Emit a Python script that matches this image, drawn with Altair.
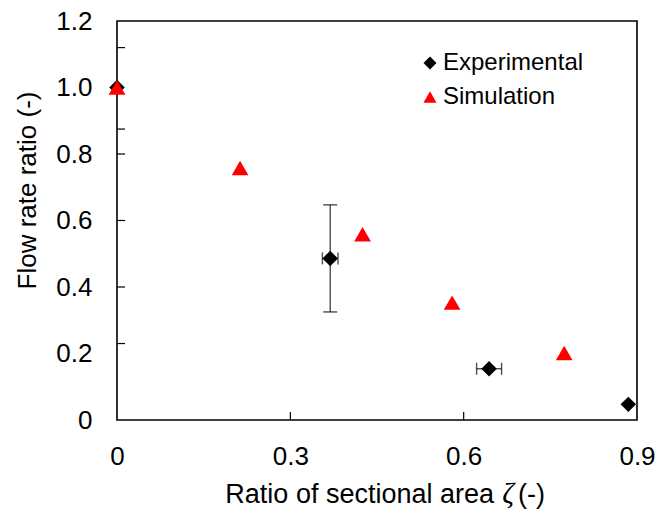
import altair as alt
import pandas as pd

# Measured points
exp_x = [0.0, 0.369, 0.644, 0.885]
exp_y = [1.0, 0.486, 0.154, 0.047]
exp_xerr = [0.0, 0.0135, 0.0216, 0.0]
exp_ylo = [1.0, 0.325, 0.154, 0.047]
exp_yhi = [1.0, 0.647, 0.154, 0.047]

# Simulated points
sim_x = [0.0, 0.213, 0.425, 0.580, 0.774]
sim_y = [1.0, 0.758, 0.559, 0.353, 0.2015]

series = ["Experimental", "Simulation"]
x_labels = [0, 0.3, 0.6, 0.9]
y_labels = [0, 0.2, 0.4, 0.6, 0.8, 1.0, 1.2]
x_tick_marks = [0.3, 0.6]
y_tick_marks = [0.23, 0.4, 0.6, 0.8, 0.875, 1.12]

FONT = "Liberation Sans"
W, H = 520, 399
TICK = 8

exp_df = pd.DataFrame({
    "x": exp_x, "y": exp_y,
    "xlo": [a - e for a, e in zip(exp_x, exp_xerr)],
    "xhi": [a + e for a, e in zip(exp_x, exp_xerr)],
    "ylo": exp_ylo, "yhi": exp_yhi,
    "series": series[0],
})
sim_df = pd.DataFrame({"x": sim_x, "y": sim_y, "series": series[1]})
yerr_df = exp_df[exp_df["yhi"] > exp_df["ylo"]]
xerr_df = exp_df[exp_df["xhi"] > exp_df["xlo"]]

label_expr = "datum.value == 0 ? '0' : format(datum.value, '.1f')"
x_scale = alt.Scale(domain=[0, 0.9], nice=False, zero=False, padding=0)
y_scale = alt.Scale(domain=[0, 1.2], nice=False, zero=False, padding=0)
x_axis = alt.Axis(values=x_labels, labelExpr=label_expr, title=None, ticks=False,
                  domain=False, grid=False, labelPadding=23, labelFontSize=26,
                  labelFont=FONT, labelColor="black", labelFlush=False,
                  labelOverlap=False)
y_axis = alt.Axis(values=y_labels, labelExpr=label_expr, title="Flow rate ratio (-)",
                  ticks=False, domain=False, grid=False, labelPadding=25,
                  labelFontSize=26, labelFont=FONT, labelColor="black",
                  labelFlush=False, labelOverlap=False,
                  titleFont=FONT, titleFontSize=26, titleFontWeight="normal",
                  titleColor="black", titleX=-90, titleY=169, titleAngle=270,
                  titleAlign="center", titleBaseline="middle")


def X(field):
    return alt.X(f"{field}:Q", scale=x_scale, axis=x_axis)


def Y(field):
    return alt.Y(f"{field}:Q", scale=y_scale, axis=y_axis)


color = alt.Color("series:N", scale=alt.Scale(domain=series, range=["black", "#ff0000"]),
                  legend=alt.Legend(title=None, orient="none", legendX=301, legendY=30,
                                    labelFont=FONT, labelFontSize=24, labelColor="black",
                                    symbolSize=170, symbolStrokeWidth=0, rowPadding=10,
                                    labelOffset=1, padding=0))
shape = alt.Shape("series:N", scale=alt.Scale(domain=series, range=["diamond", "triangle-up"]),
                  legend=None)

# error bars with caps
yerr = alt.Chart(yerr_df).mark_rule(color="#333333", strokeWidth=1.2).encode(
    x=X("x"), y=Y("ylo"), y2="yhi")
ycap_lo = alt.Chart(yerr_df).mark_tick(orient="horizontal", size=14, thickness=1.4,
                                       color="black").encode(x=X("x"), y=Y("ylo"))
ycap_hi = alt.Chart(yerr_df).mark_tick(orient="horizontal", size=14, thickness=1.4,
                                       color="black").encode(x=X("x"), y=Y("yhi"))
xerr = alt.Chart(xerr_df).mark_rule(color="#333333", strokeWidth=1.2).encode(
    x=X("xlo"), x2="xhi", y=Y("y"))
xcap_lo = alt.Chart(xerr_df).mark_tick(orient="vertical", size=12, thickness=1.4,
                                       color="black").encode(x=X("xlo"), y=Y("y"))
xcap_hi = alt.Chart(xerr_df).mark_tick(orient="vertical", size=12, thickness=1.4,
                                       color="black").encode(x=X("xhi"), y=Y("y"))

exp_pts = alt.Chart(exp_df).mark_point(filled=True, size=240, opacity=1).encode(
    x=X("x"), y=Y("y"), color=color, shape=shape)
sim_pts = alt.Chart(sim_df).mark_point(filled=True, size=280, opacity=1).encode(
    x=X("x"), y=Y("y"), color=color, shape=shape)

# inward tick marks
ytk = alt.Chart(pd.DataFrame({"v": y_tick_marks})).mark_rule(color="black", strokeWidth=1.2).encode(
    y=Y("v"), x=alt.value(0), x2=alt.value(TICK))
xtk = alt.Chart(pd.DataFrame({"v": x_tick_marks})).mark_rule(color="black", strokeWidth=1.2).encode(
    x=X("v"), y=alt.value(H), y2=alt.value(H - TICK))

# x-axis title with an italic zeta
t1 = alt.Chart(pd.DataFrame({"t": ["Ratio of sectional area"]})).mark_text(
    align="right", baseline="alphabetic", font=FONT, fontSize=27, color="black").encode(
    text="t:N", x=alt.value(377), y=alt.value(482))
t2 = alt.Chart(pd.DataFrame({"t": ["ζ"]})).mark_text(
    align="center", baseline="alphabetic", font="Liberation Serif", fontStyle="italic",
    fontSize=29, color="black").encode(text="t:N", x=alt.value(391), y=alt.value(482))
t3 = alt.Chart(pd.DataFrame({"t": ["(-)"]})).mark_text(
    align="left", baseline="alphabetic", font=FONT, fontSize=27, color="black").encode(
    text="t:N", x=alt.value(401), y=alt.value(482))

chart = alt.layer(
    yerr, ycap_lo, ycap_hi, xerr, xcap_lo, xcap_hi, ytk, xtk, exp_pts, sim_pts, t1, t2, t3
).properties(
    width=W, height=H,
    autosize=alt.AutoSizeParams(type="none"),
    padding={"left": 117, "top": 21, "right": 22, "bottom": 96},
    background="white",
).configure_view(stroke="black", strokeWidth=1.6)

chart.save("out.html", embed_options={"renderer": "svg", "actions": False})
